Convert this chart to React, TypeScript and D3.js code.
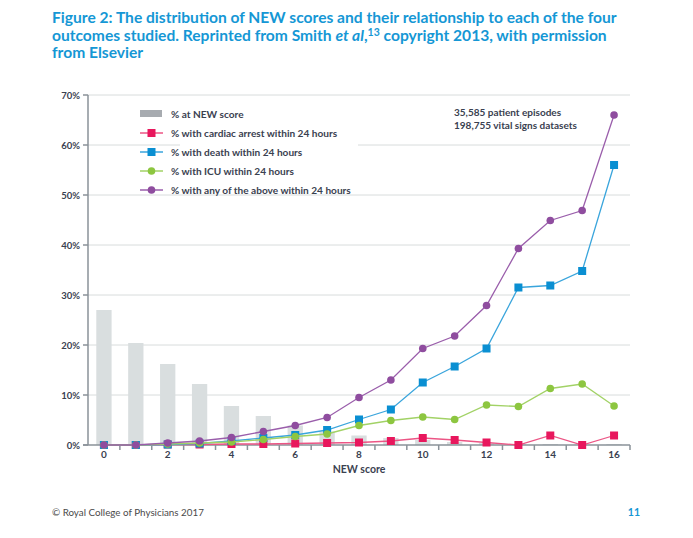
import React from "react";
import * as d3 from "d3";

// NEW score categories
const scores = [0, 1, 2, 3, 4, 5, 6, 7, 8, 9, 10, 11, 12, 13, 14, 15, 16];
const xTickLabels = [0, 2, 4, 6, 8, 10, 12, 14, 16];
const yTicks = [0, 10, 20, 30, 40, 50, 60, 70];

// % at NEW score (bars)
const pctAtScore = [27, 20.4, 16.2, 12.2, 7.8, 5.8, 3.9, 2.7, 1.9, 1.4, 1.0, 0.6, 0.4, 0.2, 0.2, 0.1, 0.2];
// outcome series (% within 24 hours)
const cardiacArrest = [0, 0, 0.1, 0.1, 0.2, 0.2, 0.3, 0.4, 0.5, 0.8, 1.4, 1.0, 0.5, 0, 1.9, 0, 1.9];
const death = [0, 0, 0.1, 0.3, 0.8, 1.4, 2.0, 3.0, 5.1, 7.1, 12.5, 15.7, 19.3, 31.5, 31.9, 34.8, 56];
const icu = [0, 0, 0.2, 0.4, 0.6, 1.1, 1.7, 2.2, 3.9, 4.9, 5.6, 5.1, 8.0, 7.7, 11.3, 12.2, 7.8];
const anyOutcome = [0, 0, 0.4, 0.8, 1.5, 2.7, 3.9, 5.5, 9.5, 13, 19.3, 21.8, 27.9, 39.3, 44.9, 46.9, 66];

const W = 693;
const H = 538;
const FONT = "Lato, 'Open Sans', sans-serif";
const TEXT = "#3a4150";
const BLUE_TITLE = "#1597d5";

type Series = { name: string; values: number[]; color: string; line: string; marker: "square" | "circle" };

const series: Series[] = [
  { name: "% with cardiac arrest within 24 hours", values: cardiacArrest, color: "#e8175d", line: "#ec5585", marker: "square" },
  { name: "% with death within 24 hours", values: death, color: "#0a8fd2", line: "#3aa5dc", marker: "square" },
  { name: "% with ICU within 24 hours", values: icu, color: "#8dc640", line: "#a2d266", marker: "circle" },
  { name: "% with any of the above within 24 hours", values: anyOutcome, color: "#8f4d9f", line: "#9a5eab", marker: "circle" },
];

function Marker({ kind, cx, cy, color }: { kind: "square" | "circle"; cx: number; cy: number; color: string }) {
  if (kind === "square") return <rect x={cx - 4} y={cy - 4} width={8} height={8} fill={color} />;
  return <circle cx={cx} cy={cy} r={3.8} fill={color} />;
}

export default function App() {
  const left = 88;
  const right = 630;
  const top = 95;
  const bottom = 445;

  const x = d3.scaleBand<number>().domain(scores).range([left, right]).paddingInner(0).paddingOuter(0);
  const y = d3.scaleLinear().domain([0, 70]).range([bottom, top]);
  const cx = (s: number) => (x(s) ?? 0) + x.bandwidth() / 2;
  const barW = x.bandwidth() * 0.48;

  const line = d3.line<number>().x((_, i) => cx(scores[i])).y(d => y(d));

  const legendY = [114, 133, 152, 171, 190];

  return (
    <div style={{ position: "absolute", left: 0, top: 0, width: W, height: H, background: "#fff" }}>
      <svg width={W} height={H} style={{ display: "block", fontFamily: FONT }}>
        {/* title */}
        <g fill={BLUE_TITLE} fontWeight={700} fontSize={15.6}>
          <text x={52} y={23}>Figure 2: The distribution of NEW scores and their relationship to each of the four</text>
          <text x={52} y={40.5}>
            outcomes studied. Reprinted from Smith <tspan fontStyle="italic">et al</tspan>,
            <tspan fontSize={10.5} dy={-5}>13</tspan>
            <tspan dy={5}> copyright 2013, with permission</tspan>
          </text>
          <text x={52} y={58}>from Elsevier</text>
        </g>

        {/* gridlines */}
        {yTicks.filter(t => t > 0).map(t => (
          <line key={t} x1={left} x2={right} y1={y(t)} y2={y(t)} stroke="#d8dcdc" strokeWidth={1} />
        ))}

        {/* bars */}
        {scores.map((s, i) => (
          <rect key={s} x={cx(s) - barW / 2} y={y(pctAtScore[i])} width={barW} height={bottom - y(pctAtScore[i])} fill="#d9dedf" />
        ))}

        {/* legend background */}
        <rect x={180} y={100} width={178} height={90} fill="#fff" />

        {/* axes */}
        <g stroke="#8a9299" strokeWidth={1.5}>
          <line x1={left} x2={left} y1={top} y2={bottom} />
          {yTicks.map(t => (
            <line key={t} x1={left - 5} x2={left} y1={y(t)} y2={y(t)} />
          ))}
          <line x1={left - 5} x2={right} y1={bottom} y2={bottom} />
          {scores.map(s => (
            <line key={s} x1={(x(s) ?? 0) + x.bandwidth()} x2={(x(s) ?? 0) + x.bandwidth()} y1={bottom} y2={bottom + 5} />
          ))}
        </g>
        <g fill={TEXT} fontWeight={700} fontSize={9.5} textAnchor="end">
          {yTicks.map(t => (
            <text key={t} x={80} y={y(t) + 3.5}>{`${t}%`}</text>
          ))}
        </g>
        <g fill={TEXT} fontWeight={700} fontSize={10} textAnchor="middle">
          {xTickLabels.map(t => (
            <text key={t} x={cx(t)} y={458}>{t}</text>
          ))}
          <text x={359} y={473} fontSize={10.5}>NEW score</text>
        </g>

        {/* lines */}
        {series.map(sr => (
          <g key={sr.name}>
            <path d={line(sr.values) ?? ""} fill="none" stroke={sr.line} strokeWidth={1.3} />
            {sr.values.map((v, i) => (
              <Marker key={i} kind={sr.marker} cx={cx(scores[i])} cy={y(v)} color={sr.color} />
            ))}
          </g>
        ))}

        {/* legend */}
        <g fontWeight={700} fontSize={10.1} fill={TEXT}>
          <rect x={140} y={legendY[0] - 4} width={22} height={7} fill="#a7abb0" />
          <text x={171} y={legendY[0] + 3.5}>% at NEW score</text>
          {series.map((sr, i) => (
            <g key={sr.name}>
              <line x1={140} x2={163} y1={legendY[i + 1]} y2={legendY[i + 1]} stroke={sr.line} strokeWidth={1.5} />
              <Marker kind={sr.marker} cx={151.5} cy={legendY[i + 1]} color={sr.color} />
              <text x={171} y={legendY[i + 1] + 3.5}>{sr.name}</text>
            </g>
          ))}
        </g>

        {/* annotation */}
        <g fontWeight={700} fontSize={10} fill={TEXT}>
          <text x={454} y={116}>35,585 patient episodes</text>
          <text x={454} y={129}>198,755 vital signs datasets</text>
        </g>

        {/* footer */}
        <text x={52} y={516} fontSize={9.8} fill="#4a4a4a">© Royal College of Physicians 2017</text>
        <text x={640} y={516} fontSize={10.5} fontWeight={700} fill={BLUE_TITLE} textAnchor="end">11</text>
      </svg>
    </div>
  );
}
